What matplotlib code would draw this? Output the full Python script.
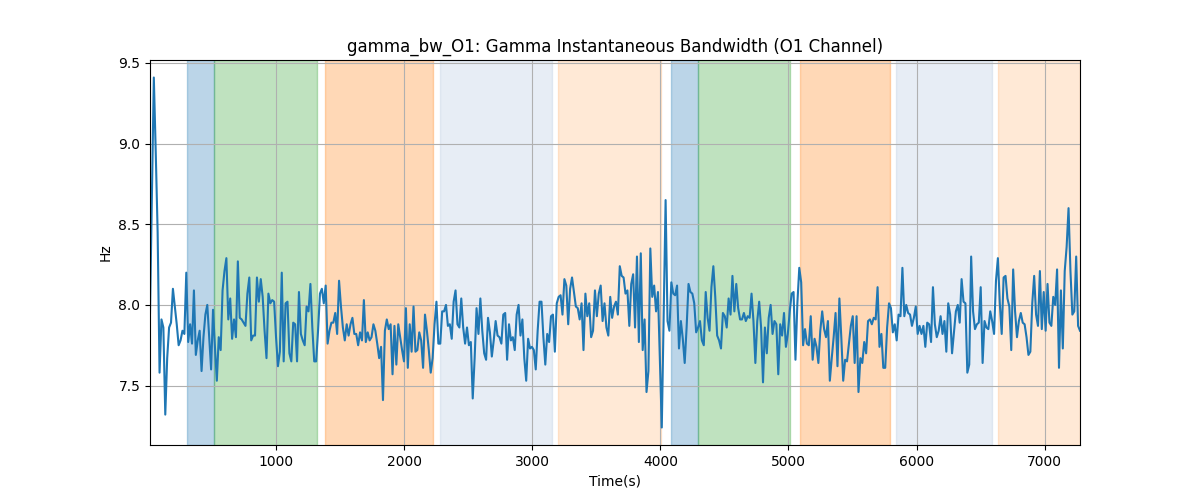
import matplotlib.pyplot as plt
import numpy as np

# gamma bandwidth (Hz), left to right
bw = [
    7.95, 8.70, 9.41, 8.95, 8.45, 7.58, 7.91, 7.86, 7.32, 7.67, 7.86, 7.89, 8.10, 7.99, 7.88, 7.75, 7.78, 7.84,
    7.82, 8.20, 7.77, 7.88, 7.76, 8.09, 7.69, 7.78, 7.84, 7.59, 7.80, 7.94, 8.00, 7.80, 7.60, 7.97,
    7.74, 7.53, 7.80, 7.72, 8.09, 8.21, 8.29, 7.91, 8.04, 7.79, 7.91, 7.80, 8.27, 7.92, 7.91, 7.89,
    7.87, 8.07, 8.17, 7.78, 7.81, 7.81, 8.17, 8.02, 8.16, 8.05, 7.84, 7.67, 8.07, 8.01, 8.03, 8.02,
    7.80, 7.62, 7.71, 8.20, 7.65, 8.01, 8.02, 7.70, 7.65, 7.89, 7.88, 7.65, 8.08, 7.82, 7.78, 7.75,
    7.99,
    7.96, 8.13, 7.86, 7.65, 7.65, 7.84, 8.07, 8.10, 8.01, 8.12, 7.76, 7.84, 7.89, 7.89, 7.95, 7.82,
    8.15, 7.99, 7.86, 7.78, 7.88, 7.81, 7.88, 7.92, 7.82, 7.82, 7.75, 7.83, 7.78, 8.03, 7.77, 7.83,
    7.78, 7.80, 7.88, 7.84, 7.76, 7.67, 7.74, 7.41, 7.84, 7.91, 7.85, 7.88, 7.57, 7.87, 7.63, 7.88,
    7.80, 7.72, 7.65, 7.98, 7.61, 7.88, 7.71, 7.99, 7.71, 7.72, 7.83, 7.78, 7.61, 7.94, 7.84, 7.72,
    7.58, 7.67, 7.88, 8.02, 7.76, 7.76, 7.96, 7.96, 8.00, 7.87, 7.88, 7.79, 8.02, 8.09, 7.88, 7.86,
    8.04,
    7.86, 7.76, 7.86, 7.75, 7.77, 7.42, 7.67, 7.98, 7.82, 8.04, 7.84, 7.70, 7.66, 7.92, 7.83, 7.68,
    7.78, 7.90, 7.81, 7.80, 7.76, 7.94, 7.95, 7.66, 7.88, 7.78, 7.80, 7.72, 7.94, 8.00, 7.81, 7.91,
    7.67, 7.53, 7.79, 7.73, 7.74, 7.72, 7.60, 7.84, 8.02, 8.02, 7.80, 7.63, 7.82, 7.77, 7.93, 7.94,
    7.71, 8.01, 8.05, 8.06, 7.94, 8.16, 8.12, 7.88, 8.10, 8.17, 8.08, 7.99, 7.98, 7.91, 8.01, 7.72,
    8.07, 7.93, 8.01, 7.80, 7.84, 8.09, 7.93, 8.07, 8.12, 7.90, 8.01, 7.86, 7.81, 8.05, 7.92, 7.99,
    8.02,
    7.94, 8.24, 8.18, 8.17, 8.07, 8.09, 7.87, 8.13, 8.19, 7.86, 8.30, 7.77, 8.32, 7.72, 7.91, 7.46,
    7.59, 8.35, 8.05, 8.12, 7.96, 8.08, 7.65, 7.24, 7.94, 8.65, 7.90, 7.84, 8.14, 8.07, 8.06, 8.12,
    7.73, 7.90, 7.79, 7.64, 7.86, 8.13, 8.08, 8.07, 8.01, 7.83, 7.86, 7.90, 7.78, 7.75, 8.08, 7.92,
    7.84, 8.11, 8.24, 8.05, 7.81, 7.78, 7.73, 7.95, 7.93, 7.86, 8.04, 7.94, 8.18, 7.96, 8.13, 7.98,
    7.91, 7.91, 7.95, 7.90, 7.93, 7.92, 8.07, 7.90, 7.64, 7.90, 8.02, 7.86, 7.52, 7.86, 7.70, 7.92,
    8.00,
    7.82, 7.90, 7.88, 7.57, 7.88, 7.81, 7.95, 7.74, 7.82, 7.96, 8.07, 8.08, 7.66, 8.01, 8.23, 8.14,
    7.75, 7.85, 7.76, 7.75, 7.93, 7.66, 7.79, 7.74, 7.64, 7.84, 7.96, 7.85, 7.80, 7.90, 7.53, 7.67,
    7.80, 7.95, 7.62, 8.04, 7.80, 7.53, 7.66, 7.65, 7.76, 7.87, 7.93, 7.64, 7.93, 7.46, 7.67, 7.64,
    7.77, 7.70, 7.90, 7.91, 7.88, 7.92, 7.91, 8.11, 7.74, 7.82, 7.61, 7.61, 7.86, 8.01, 7.98, 7.83,
    7.88, 7.78, 7.94, 7.93, 8.23, 7.93, 8.00, 7.95, 7.94, 7.87, 7.92, 7.99, 7.82, 7.87, 7.82, 7.87,
    7.74,
    7.89, 7.88, 7.77, 8.11, 7.88, 7.80, 7.84, 7.93, 7.82, 7.90, 7.71, 8.01, 7.94, 7.70, 7.83, 7.96,
    8.00, 7.89, 8.16, 8.02, 8.01, 7.58, 7.63, 8.30, 7.96, 7.85, 7.88, 7.89, 8.11, 7.64, 7.90, 7.86,
    7.85, 7.96, 7.90, 7.82, 8.15, 8.29, 8.01, 7.82, 8.17, 8.18, 8.04, 7.99, 7.72, 8.22, 7.96, 7.80,
    7.90, 7.95, 7.89, 7.88, 7.80, 7.69, 7.71, 8.01, 8.18, 7.94, 7.87, 8.21, 7.85, 8.08, 7.84, 8.13,
    7.89, 7.87, 8.05, 8.00, 8.22, 7.61, 8.09, 7.73, 8.21, 8.36, 8.60, 8.21, 7.94, 7.96, 8.30, 7.87,
    7.84,
]
t_start, t_end = 13, 7277

# shaded periods: (start, end, colour, alpha)
span_start = [305, 513, 1380, 2278, 3202, 4085, 4297, 5093, 5836, 6640]
span_end = [513, 1316, 2224, 3154, 4005, 4297, 5008, 5792, 6591, 7277]
span_color = ['tab:blue', 'tab:green', 'tab:orange', 'lightsteelblue', 'tab:orange',
              'tab:blue', 'tab:green', 'tab:orange', 'lightsteelblue', 'tab:orange']
span_alpha = [0.3, 0.3, 0.3, 0.3, 0.17, 0.3, 0.3, 0.3, 0.3, 0.17]

t = np.linspace(t_start, t_end, len(bw))

plt.figure(figsize=(12, 5))
for s, e, c, a in zip(span_start, span_end, span_color, span_alpha):
    plt.axvspan(s, e, color=c, alpha=a)
plt.plot(t, bw, color='tab:blue', linewidth=1.5)

plt.xlim(t[0], t[-1])
plt.title('gamma_bw_O1: Gamma Instantaneous Bandwidth (O1 Channel)')
plt.xlabel('Time(s)')
plt.ylabel('Hz')
plt.grid(True)

plt.savefig('out.png', dpi=100)
